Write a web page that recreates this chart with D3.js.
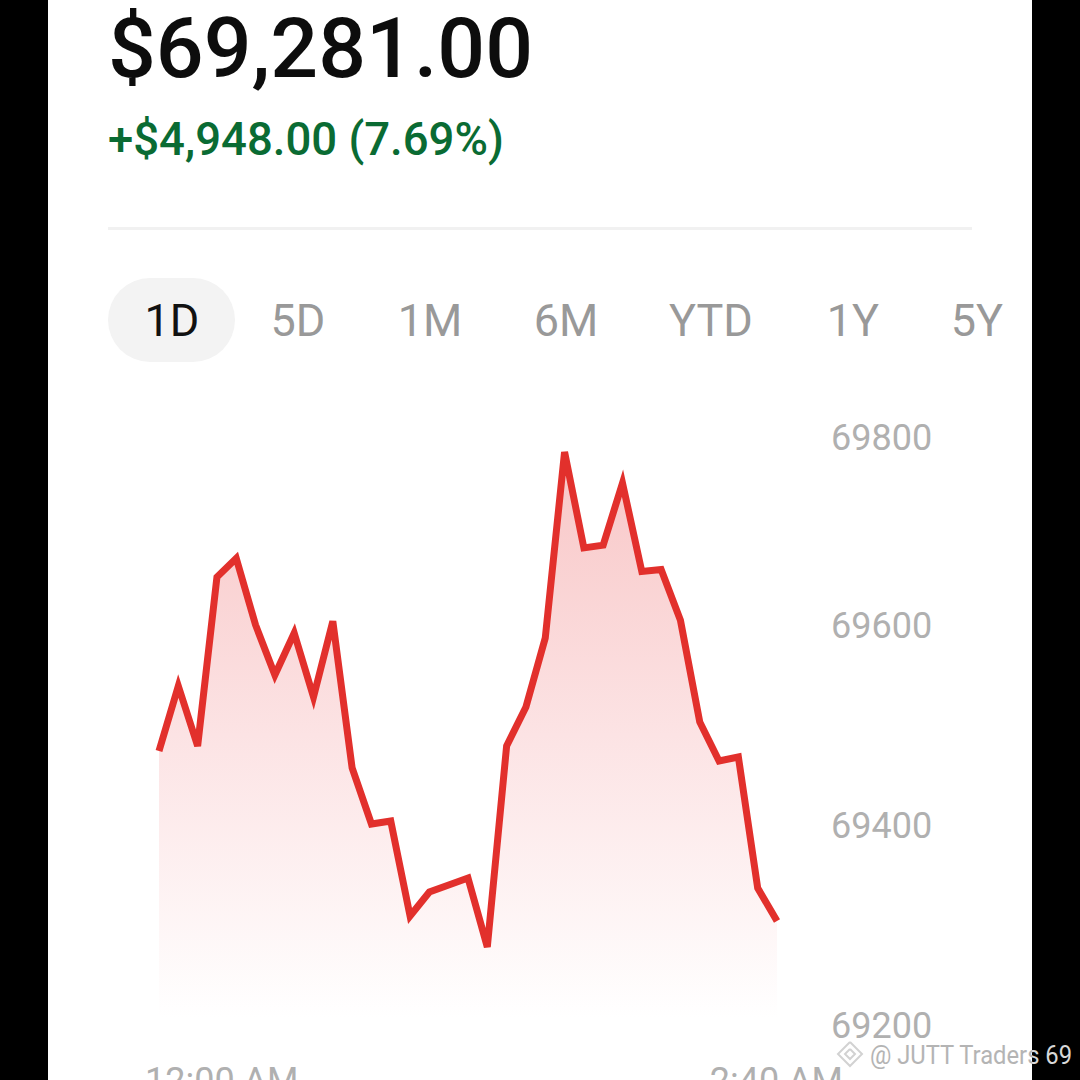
<!DOCTYPE html>
<head>
<meta charset="utf-8">
<title>$69,281.00</title>
<script src="https://d3js.org/d3.v7.min.js"></script>
<style>
html, body { margin: 0; padding: 0; background: #000; }
svg { display: block; }
text { font-family: Roboto, sans-serif; }
</style>
</head>
<body>
<script>
// minutes after midnight, one reading every five minutes
var minutes = [0,5,10,15,20,25,30,35,40,45,50,55,60,65,70,75,80,85,90,95,100,105,110,115,120,125,130,135,140,145,150,155,160];
var prices = [69474,69539,69479,69651,69671,69600,69550,69592,69528,69604,69457,69401,69404,69309,69333,69340,69347,69278,69479,69518,69587,69784,69682,69685,69751,69657,69659,69605,69503,69464,69468,69337,69304];
var priceTicks = [69200,69400,69600,69800];
var timeTicks = [0,160];
var timeLabels = ["12:00 AM","2:40 AM"];
var ranges = ["1D","5D","1M","6M","YTD","1Y","5Y"];
var rangeCenters = [172,298,430,566,711,853,977];
var headline = "$69,281.00";
var change = "+$4,948.00 (7.69%)";
var watermark = "@ JUTT Traders 69";

var width = 1080, height = 1080;

var svg = d3.select("body").append("svg")
  .attr("width", width)
  .attr("height", height);

// the white card between the black bars
svg.append("rect").attr("x", 48).attr("y", 0).attr("width", 984).attr("height", height).attr("fill", "#fff");

// header
svg.append("text").attr("x", 108).attr("y", 77)
  .attr("font-size", 84.2).attr("font-weight", 500).attr("fill", "#0d0d0d").text(headline);
svg.append("text").attr("x", 108).attr("y", 155)
  .attr("font-size", 45.5).attr("font-weight", 500).attr("fill", "#0a6b33").text(change);
svg.append("rect").attr("x", 108).attr("y", 227).attr("width", 864).attr("height", 3).attr("fill", "#f1f1f1");

// range tabs
svg.append("rect").attr("x", 108).attr("y", 278).attr("width", 127).attr("height", 84).attr("rx", 42).attr("fill", "#f3f3f3");
svg.selectAll(".tab").data(ranges).enter().append("text")
  .attr("class", "tab")
  .attr("x", function(d, i) { return rangeCenters[i]; })
  .attr("y", 336)
  .attr("text-anchor", "middle")
  .attr("font-size", 45)
  .attr("fill", function(d, i) { return i == 0 ? "#111" : "#999"; })
  .text(function(d) { return d; });

// scales, the price axis of the picture is not quite even
var x = d3.scaleLinear().domain([0, 160]).range([159, 777]);
var y = d3.scaleLinear().domain(priceTicks).range([1025, 825, 625, 437]);

var defs = svg.append("defs");
var grad = defs.append("linearGradient").attr("id", "fade")
  .attr("gradientUnits", "userSpaceOnUse")
  .attr("x1", 0).attr("x2", 0).attr("y1", 452).attr("y2", 1018);
grad.append("stop").attr("offset", 0).attr("stop-color", "#f8c6c6");
grad.append("stop").attr("offset", 0.5).attr("stop-color", "#fce3e4");
grad.append("stop").attr("offset", 1).attr("stop-color", "#ffffff");

var area = d3.area()
  .x(function(d, i) { return x(minutes[i]); })
  .y0(1018)
  .y1(function(d) { return y(d); });
var line = d3.line()
  .x(function(d, i) { return x(minutes[i]); })
  .y(function(d) { return y(d); });

svg.append("path").datum(prices).attr("d", area).attr("fill", "url(#fade)");
svg.append("path").datum(prices).attr("d", line)
  .attr("fill", "none")
  .attr("stroke", "#e2302c")
  .attr("stroke-width", 7)
  .attr("stroke-linejoin", "miter");

// price axis
var yAxis = svg.append("g").attr("transform", "translate(831,1)")
  .call(d3.axisRight(y).tickValues(priceTicks).tickSize(0).tickPadding(0).tickFormat(d3.format("d")));
yAxis.select(".domain").remove();
yAxis.selectAll("text")
  .attr("font-size", 36).attr("font-family", "Roboto, sans-serif").attr("fill", "#b0b0b0");

// time axis, labels run past the plot on both sides
var timeAnchors = ["start", "end"];
var timeOffsets = [-14, 66];
svg.selectAll(".time").data(timeTicks).enter().append("text")
  .attr("class", "time")
  .attr("x", function(d, i) { return x(d) + timeOffsets[i]; })
  .attr("y", 1093)
  .attr("text-anchor", function(d, i) { return timeAnchors[i]; })
  .attr("font-size", 36)
  .attr("fill", "#b0b0b0")
  .text(function(d, i) { return timeLabels[i]; });

// watermark, dark on the card and light on the black bar
var markFill = defs.append("linearGradient").attr("id", "markFill")
  .attr("gradientUnits", "userSpaceOnUse")
  .attr("x1", 48).attr("x2", 1080).attr("y1", 0).attr("y2", 0);
var split = (1032 - 48) / (1080 - 48);
markFill.append("stop").attr("offset", 0).attr("stop-color", "#b4b4b4");
markFill.append("stop").attr("offset", split).attr("stop-color", "#b4b4b4");
markFill.append("stop").attr("offset", split).attr("stop-color", "#d8d8d8");
markFill.append("stop").attr("offset", 1).attr("stop-color", "#d8d8d8");
svg.append("text").attr("x", 870).attr("y", 1064).attr("font-size", 26)
  .attr("textLength", 202).attr("lengthAdjust", "spacingAndGlyphs")
  .attr("fill", "url(#markFill)").text(watermark);
var logo = svg.append("g").attr("transform", "translate(850,1054)")
  .attr("fill", "none").attr("stroke", "#d2d2d2").attr("stroke-width", 2);
logo.append("path").attr("d", d3.line()([[0,-12],[12,0],[0,12],[-12,0],[0,-12]]));
logo.append("path").attr("d", d3.line()([[0,-5],[5,0],[0,5],[-5,0],[0,-5]]));
</script>
</body>
